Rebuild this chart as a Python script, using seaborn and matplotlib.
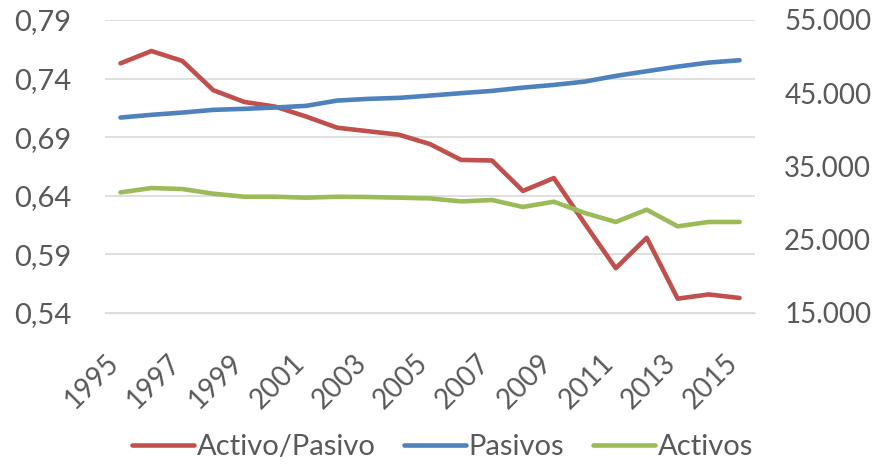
import pandas as pd
import matplotlib.pyplot as plt
import matplotlib.ticker as mticker
import matplotlib.transforms as mtransforms
import seaborn as sns

# values
years = list(range(1995, 2016))
ratio = [0.753, 0.7635, 0.755, 0.730, 0.720, 0.716, 0.7075, 0.698, 0.695, 0.692, 0.684,
         0.6705, 0.670, 0.644, 0.655, 0.616, 0.578, 0.604, 0.552, 0.5556, 0.5526]
pasivos = [41670, 42040, 42350, 42720, 42860, 43040, 43270, 43990, 44220, 44360, 44670,
           45000, 45310, 45760, 46130, 46580, 47360, 48000, 48630, 49180, 49500]
activos = [31440, 32040, 31900, 31260, 30850, 30850, 30720, 30850, 30810, 30720, 30620,
           30210, 30400, 29450, 30170, 28630, 27400, 29080, 26800, 27400, 27400]
year_ticks = list(range(1995, 2016, 2))

data = pd.DataFrame({'Year': years, 'Activo/Pasivo': ratio, 'Pasivos': pasivos, 'Activos': activos})

sns.set_style('white')
plt.rcParams['font.family'] = ['Lato', 'DejaVu Sans']
gray = '#595959'

fig = plt.figure(figsize=(8.73, 4.65), dpi=100)
ax = fig.add_axes([0.1203, 0.3275, 0.7446, 0.6295])
ax2 = ax.twinx()

lw = 3.3
sns.lineplot(x='Year', y='Activo/Pasivo', data=data, ax=ax, color='#C0504D', linewidth=lw,
             label='Activo/Pasivo', legend=False)
sns.lineplot(x='Year', y='Pasivos', data=data, ax=ax2, color='#4F81BD', linewidth=lw,
             label='Pasivos', legend=False)
sns.lineplot(x='Year', y='Activos', data=data, ax=ax2, color='#9BBB59', linewidth=lw,
             label='Activos', legend=False)

ax.set_xlim(1994.5, 2015.5)
ax.set_ylim(0.54, 0.79)
ax.set_yticks([0.54, 0.59, 0.64, 0.69, 0.74, 0.79])
ax2.set_ylim(15000, 55000)
ax2.set_yticks([15000, 25000, 35000, 45000, 55000])
ax.yaxis.set_major_formatter(mticker.FuncFormatter(lambda v, p: f'{v:.2f}'.replace('.', ',')))
ax2.yaxis.set_major_formatter(mticker.FuncFormatter(lambda v, p: f'{int(round(v)):,}'.replace(',', '.')))

ax.set_xticks(year_ticks)
ax.set_xticklabels([str(y) for y in year_ticks], rotation=45, ha='right', va='center',
                   rotation_mode='anchor')
ax.grid(True, axis='y', color='#D9D9D9', linewidth=1.2)
ax.set_axisbelow(True)
ax.set_xlabel('')
ax.set_ylabel('')
ax2.set_ylabel('')

for a in (ax, ax2):
    for s in a.spines.values():
        s.set_visible(False)
    a.tick_params(length=0, labelsize=21, labelcolor=gray)
ax.spines['bottom'].set_visible(True)
ax.spines['bottom'].set_color('#D9D9D9')
ax.tick_params(axis='y', pad=24)
ax.tick_params(axis='x', pad=33, labelsize=20)
ax2.tick_params(axis='y', pad=21, labelsize=20)

# nudge rotated year labels a bit to the left
shift = mtransforms.ScaledTranslation(-6 / 100, 0, fig.dpi_scale_trans)
for lbl in ax.get_xticklabels():
    lbl.set_transform(lbl.get_transform() + shift)

# combined legend at bottom
h1, l1 = ax.get_legend_handles_labels()
h2, l2 = ax2.get_legend_handles_labels()
fig.legend(h1 + h2, l1 + l2, loc='center', bbox_to_anchor=(0.507, 0.038), ncol=3, frameon=False,
           fontsize=21, labelcolor=gray, handlelength=2.1, handletextpad=0.1, columnspacing=1.0)

plt.savefig('out.png', dpi=100)
